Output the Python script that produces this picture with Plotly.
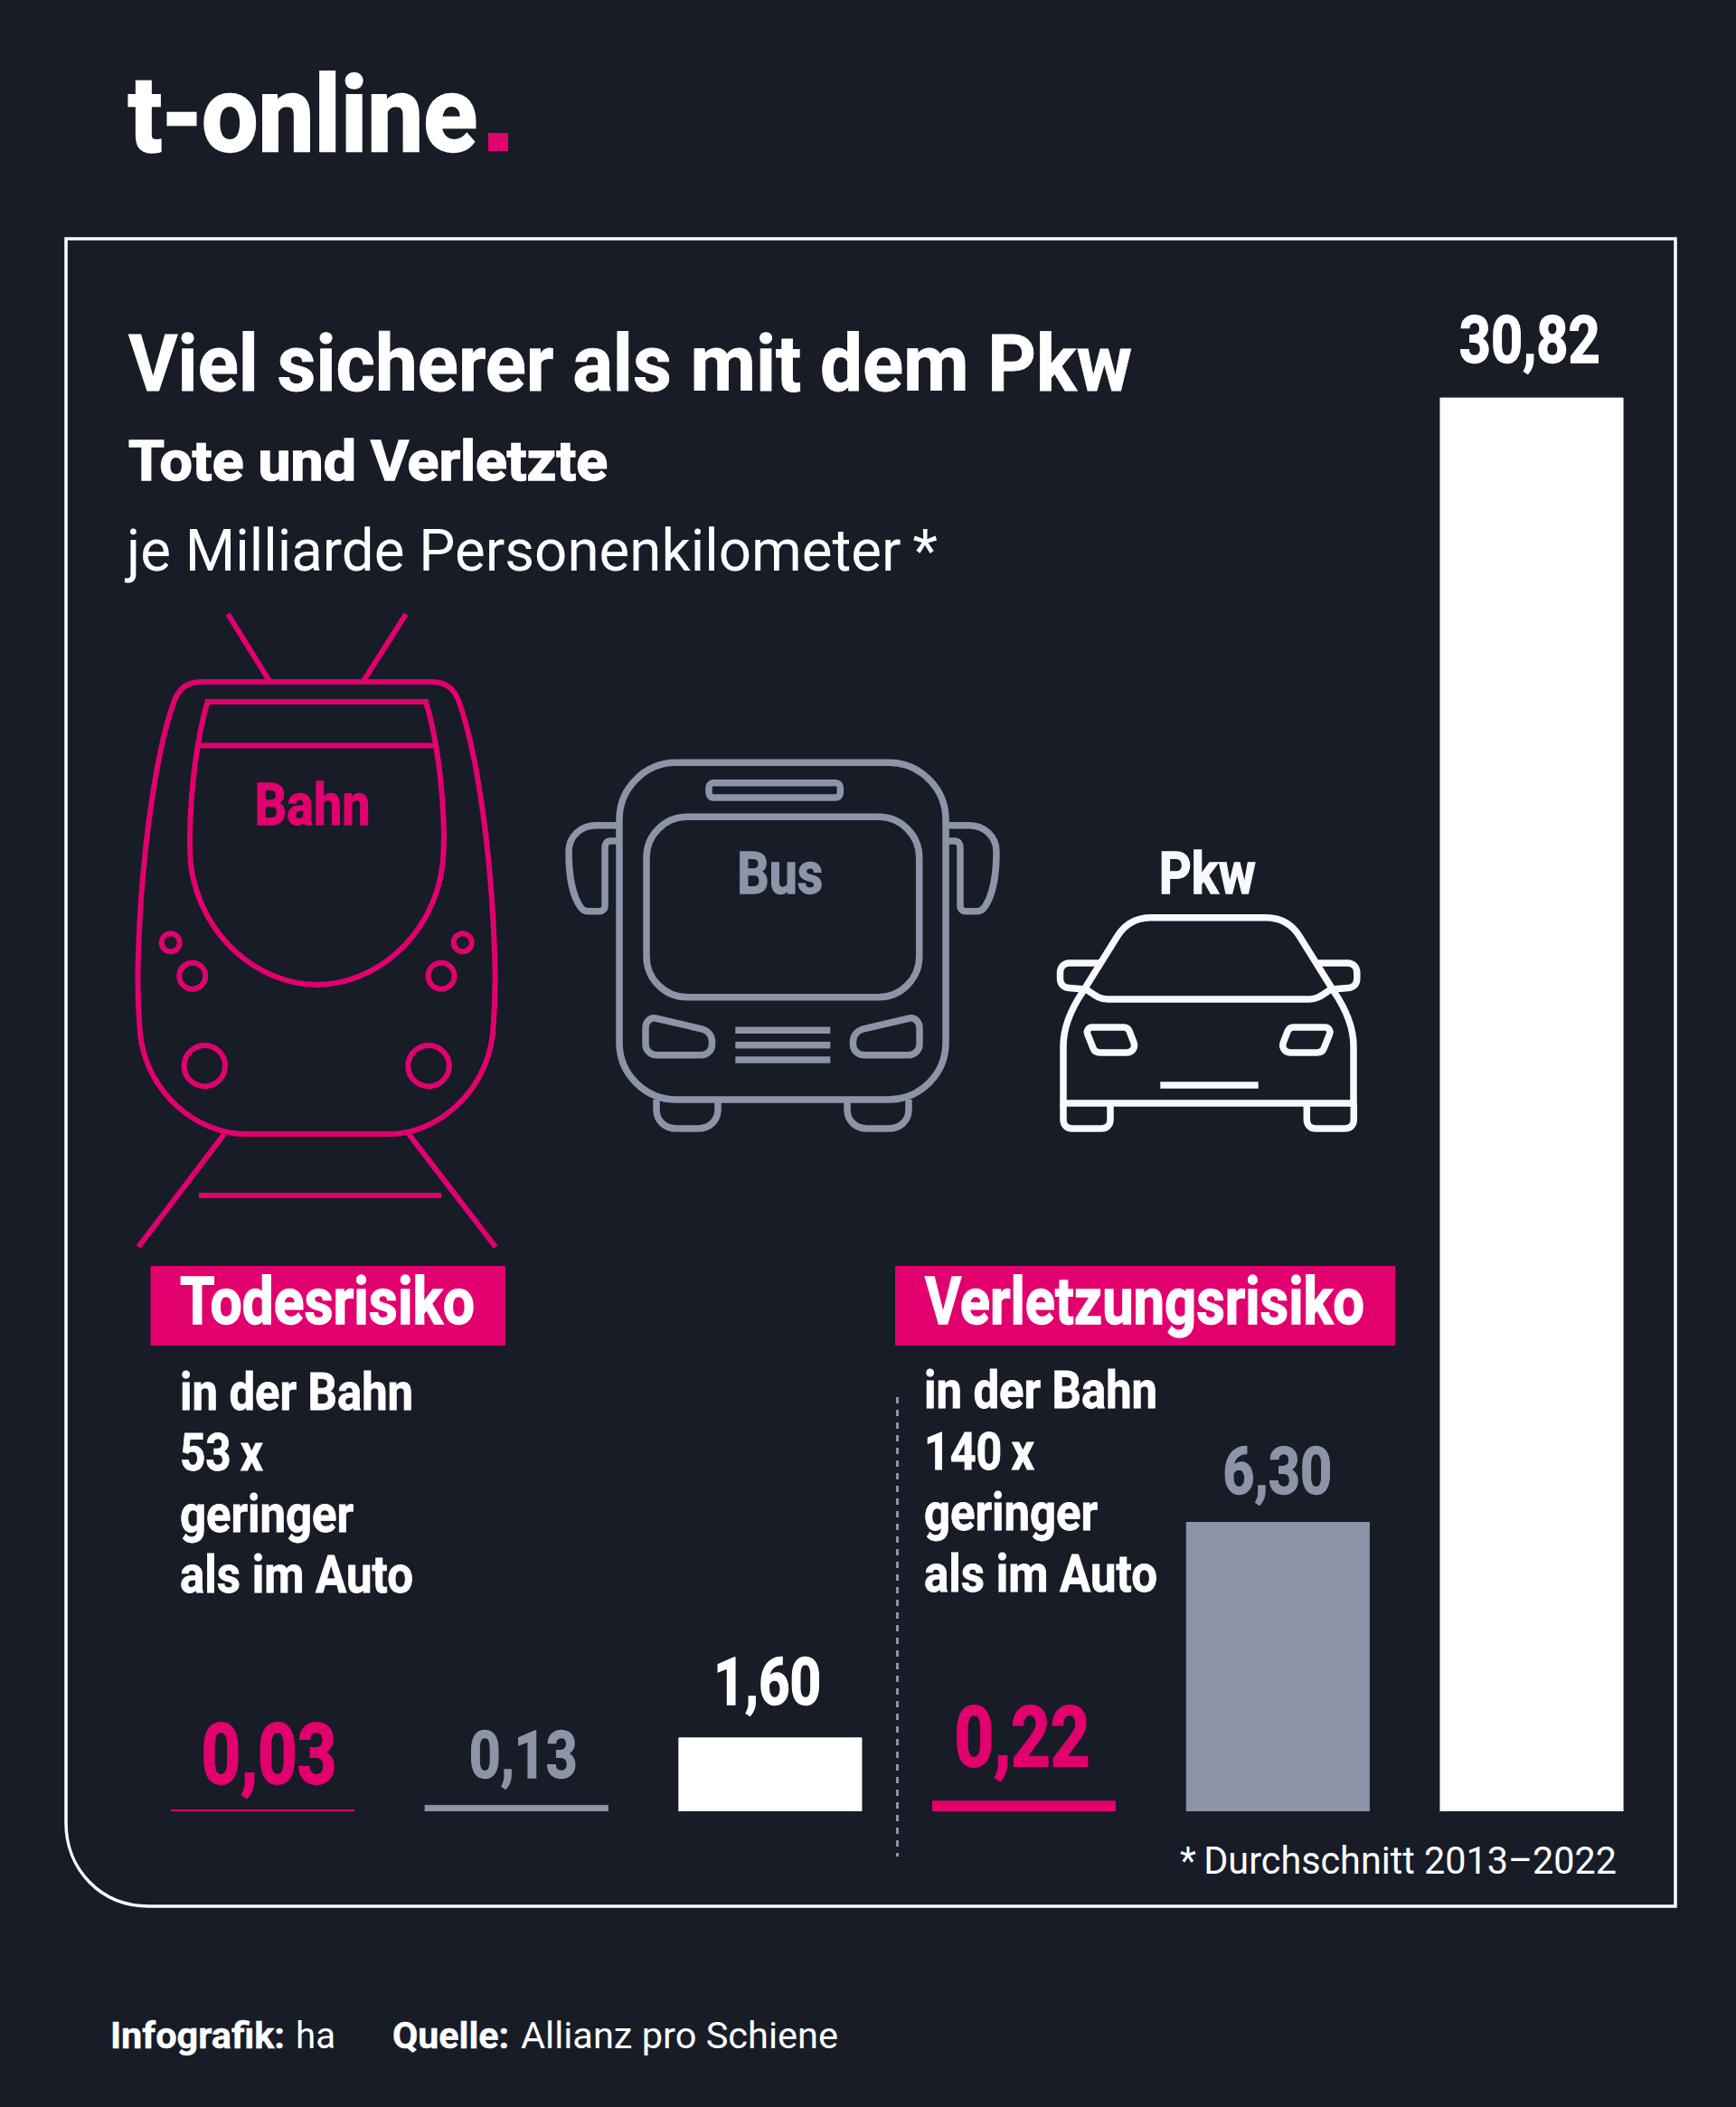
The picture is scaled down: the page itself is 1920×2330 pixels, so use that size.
import json
import re
import plotly.graph_objects as go

# bar data
categories = ['Tod Bahn', 'Tod Bus', 'Tod Pkw', 'Verletzt Bahn', 'Verletzt Bus', 'Verletzt Pkw']
values = [0.03, 0.13, 1.60, 0.22, 6.30, 30.82]
value_labels = ['0,03', '0,13', '1,60', '0,22', '6,30', '30,82']
risk_lines_tod = ['in der Bahn', '53\u2009x', 'geringer', 'als im Auto']
risk_lines_verletzt = ['in der Bahn', '140\u2009x', 'geringer', 'als im Auto']

BG = '#171C27'
PINK = '#E2006F'
GREY = '#8E94A8'
WHITE = '#FFFFFF'
bar_colors = [PINK, GREY, WHITE, PINK, GREY, WHITE]
label_sizes = [92, 73, 73, 92, 73, 73]
label_gaps = [29.5, 30.5, 37, 39, 31.5, 39]
label_dx = [7, 8, -2.5, -2.5, 0, -2]

# the original uses a condensed face; no such font here, so each text is squeezed to its measured width
text_widths = {
    't-online': 386, 'Viel sicherer als mit dem Pkw': 1110, 'Tote und Verletzte': 530,
    'je Milliarde Personenkilometer\u2009*': 897, 'Bahn': 128, 'Bus': 95, 'Pkw': 107,
    'Todesrisiko': 326, 'Verletzungsrisiko': 486, 'in der Bahn': 258, '53\u2009x': 92, '140\u2009x': 122,
    'geringer': 192, 'als im Auto': 258, '0,03': 150, '0,13': 120, '1,60': 119, '0,22': 150, '6,30': 121,
    '30,82': 156, '*\u2009Durchschnitt 2013\u20132022': 483, 'Infografik:': 193, 'ha': 44, 'Quelle:': 129,
    'Allianz pro Schiene': 351,
}
# and thickened a little, the squeeze thins the stems
text_strokes = {
    't-online': 2.5, 'Viel sicherer als mit dem Pkw': 0.8, 'Tote und Verletzte': 1.5,
    'Bahn': 1.3, 'Bus': 1.3, 'Pkw': 1.3, 'Todesrisiko': 1.4, 'Verletzungsrisiko': 1.4,
    'in der Bahn': 0.8, '53\u2009x': 0.8, '140\u2009x': 0.8, 'geringer': 0.8, 'als im Auto': 0.8,
    '0,03': 2, '0,13': 1.4, '1,60': 1.4, '0,22': 2, '6,30': 1.4, '30,82': 1.4,
    'Infografik:': 0.4, 'Quelle:': 0.4,
}

fig = go.Figure()

# axis geometry: 280.7 px per bar, 50.71 px per unit
base_px = 2003
px_per_unit = 50.71
y_max = 34
fig.add_trace(go.Bar(x=categories, y=values, marker_color=bar_colors, marker_line_width=1, marker_line_color=bar_colors,
                     width=0.72, hoverinfo='skip', showlegend=False))
# empty trace so the pixel overlay axes exist
fig.add_trace(go.Scatter(x=[0], y=[0], xaxis='x2', yaxis='y2', mode='none', hoverinfo='skip', showlegend=False))

def mirror(path, cx):
    return re.sub(r'(-?[\d.]+),(-?[\d.]+)', lambda m: '%.1f,%s' % (2 * cx - float(m.group(1)), m.group(2)), path)

def rrect(x0, y0, x1, y1, r):
    k = r * 0.45
    return ('M%s,%s L%s,%s C%s,%s %s,%s %s,%s L%s,%s C%s,%s %s,%s %s,%s L%s,%s C%s,%s %s,%s %s,%s L%s,%s C%s,%s %s,%s %s,%s Z' % (
        x0 + r, y0, x1 - r, y0, x1 - k, y0, x1, y0 + k, x1, y0 + r,
        x1, y1 - r, x1, y1 - k, x1 - k, y1, x1 - r, y1,
        x0 + r, y1, x0 + k, y1, x0, y1 - k, x0, y1 - r,
        x0, y0 + r, x0, y0 + k, x0 + k, y0, x0 + r, y0))

def circle(cx, cy, r):
    return rrect(cx - r, cy - r, cx + r, cy + r, r)

def stroke(path, color, width=4.5):
    fig.add_shape(type='path', path=path, xref='x2', yref='y2', line=dict(color=color, width=width), fillcolor='rgba(0,0,0,0)')

def box(x0, y0, x1, y1, color):
    fig.add_shape(type='rect', x0=x0, y0=y0, x1=x1, y1=y1, xref='x2', yref='y2', fillcolor=color, line_width=0)

def label(text, x, baseline, size, color=WHITE, weight=700, anchor='left'):
    fig.add_annotation(text=text, x=x, y=baseline + 0.244 * size, xref='x2', yref='y2', xanchor=anchor, yanchor='bottom',
                       showarrow=False, borderpad=0, borderwidth=0,
                       font=dict(family='Roboto', size=size, color=color, weight=weight))

# frame with the rounded corner bottom left
stroke('M73,264 L1853,264 L1853,2108 L165,2108 C110,2108 73,2066 73,2016 Z', WHITE, 3.5)

# train
train = [
    'M223,754 L477,754 C495,754 503,763 508,777 C530,840 545,960 547.5,1071 C548,1100 547,1120 545,1143 '
    'C538,1210 480,1254 433,1254 L270,1254 C220,1254 162,1210 155,1143 C153,1120 152,1100 152.5,1071 '
    'C155,960 170,840 192,777 C197,763 205,754 223,754 Z',
    'M229.5,776 L471,776 C483,815 490,870 491,923 C491,935 490.5,946 489.5,956 C480,1035 415,1089 350.5,1089 '
    'C286,1089 221,1035 211,956 C210,946 210,935 210,923 C211,870 218,815 229.5,776 Z',
    'M221,824.6 L480,824.6',
    'M252,679 L298,753', 'M449,679 L402,753',
    'M248,1254 L153,1379', 'M452,1254 L548,1379',
    'M220,1322 L488,1322',
    circle(188.7, 1042.3, 10), circle(511.7, 1042.3, 10),
    circle(212.7, 1079.2, 14.5), circle(488, 1079.2, 14.5),
    circle(226.3, 1178.7, 22.7), circle(474, 1178.7, 22.7),
]
for p in train:
    stroke(p, PINK, 6)

# bus
bus_cx = 865.5
bus_mirror = 'M682,912.7 L660,912.7 C642,912.7 629,925 629,942 C629,970 634,992 642,1003 C644,1006 646,1007.7 650,1007.7 L663,1007.7 C667,1007.7 669,1005 669,1002 L669,938 C669,933 671,930 675,930 L682,930'
bus_light = 'M725,1126 L777,1138 C783,1140 787.5,1145 787.5,1152 L787.5,1155 C787.5,1162 782,1166.7 775,1166.7 L726,1166.7 C719,1166.7 714,1161 714,1155 L714,1137 C714,1130 719,1125 725,1126 Z'
bus_wheel = 'M726,1216 L726,1227 C726,1240 736,1248 748,1248 L772,1248 C784,1248 794,1240 794,1227 L794,1216'
bus = [
    rrect(685, 843.3, 1046, 1216, 63),
    rrect(784, 865.7, 929.3, 882, 5),
    rrect(715, 903.3, 1016.7, 1102.7, 45),
    bus_mirror, mirror(bus_mirror, bus_cx),
    bus_light, mirror(bus_light, bus_cx),
    bus_wheel, mirror(bus_wheel, bus_cx),
    'M813.3,1139.3 L918.3,1139.3', 'M813.3,1155.7 L918.3,1155.7', 'M813.3,1172 L918.3,1172',
]
for p in bus:
    stroke(p, GREY, 7.5)

# car
car_cx = 1336.65
car_mirror = 'M1217,1065 L1183,1065 C1176,1065 1172.5,1070 1172.5,1076 L1172.5,1082 C1172.5,1088 1176,1092 1182,1092.5 L1200,1094'
car_light = 'M1208,1136 L1243,1136 C1246,1136 1248,1138 1249,1140 L1254,1153 C1256,1159 1252,1164 1246,1164 L1217,1164 C1213,1164 1210,1162 1209,1159 L1203,1144 C1201,1140 1204,1136 1208,1136 Z'
car_wheel = 'M1176,1220 L1176,1238 C1176,1244 1180,1248 1186,1248 L1218,1248 C1224,1248 1228,1244 1228,1238 L1228,1220'
car = [
    'M1273,1014.7 L1400,1014.7 C1418,1014.7 1430,1024 1437,1035 L1475,1096 C1488,1115 1497,1135 1497,1157 L1497,1220 '
    'L1176,1220 L1176,1157 C1176,1135 1185,1115 1198,1096 L1236,1035 C1243,1024 1255,1014.7 1273,1014.7 Z',
    'M1200,1093.3 C1208,1098 1214,1105 1225,1105 L1448,1105 C1459,1105 1465,1098 1473.3,1093.3',
    car_mirror, mirror(car_mirror, car_cx),
    car_light, mirror(car_light, car_cx),
    car_wheel, mirror(car_wheel, car_cx),
    'M1283.3,1200 L1391.7,1200',
]
for p in car:
    stroke(p, '#F8F9FC', 7.5)

# divider
fig.add_shape(type='line', x0=992.5, x1=992.5, y0=1545, y1=2053, xref='x2', yref='y2',
              line=dict(color=GREY, width=3, dash='7px,7px'))

# logo, headings
label('t-online', 142, 167, 116)
box(540, 147, 562, 167, PINK)
label('Viel sicherer als mit dem Pkw', 142, 432, 87)
label('Tote und Verletzte', 142, 531, 62)
label('je Milliarde Personenkilometer\u2009*', 140, 631, 64, weight=400)

# icon names
label('Bahn', 345, 912, 64, PINK, anchor='center')
label('Bus', 863, 988, 64, GREY, anchor='center')
label('Pkw', 1335, 988, 64, '#F8F9FC', anchor='center')

# risk boxes
box(166.5, 1400, 559, 1488, PINK)
box(990, 1400, 1543, 1488, PINK)
label('Todesrisiko', 199, 1464, 73)
label('Verletzungsrisiko', 1023, 1464, 73)
for line, b in zip(risk_lines_tod, [1559, 1626, 1694, 1761]):
    label(line, 199, b, 58)
for line, b in zip(risk_lines_verletzt, [1557, 1625, 1692, 1760]):
    label(line, 1022, b, 58)

# value labels over the bars
for cat, val, txt, col, size, gap, dx in zip(categories, values, value_labels, bar_colors, label_sizes, label_gaps, label_dx):
    fig.add_annotation(text=txt, x=cat, y=val, xref='x', yref='y', xanchor='center', yanchor='bottom', showarrow=False,
                       borderpad=0, borderwidth=0, xshift=dx, yshift=gap - 0.244 * size,
                       font=dict(family='Roboto', size=size, color=col, weight=700))

# footnote and source
label('*\u2009Durchschnitt 2013\u20132022', 1305, 2072, 42, weight=400)
label('Infografik:', 122, 2265.5, 40)
label('ha', 327, 2265.5, 40, weight=400)
label('Quelle:', 434, 2265.5, 40)
label('Allianz pro Schiene', 576, 2265.5, 40, weight=400)

fig.update_layout(
    width=1920, height=2330, margin=dict(l=0, r=0, t=0, b=0),
    paper_bgcolor=BG, plot_bgcolor='rgba(0,0,0,0)', showlegend=False,
    xaxis=dict(domain=[150.15 / 1920, 1834.35 / 1920], range=[-0.5, 5.5], type='category', visible=False,
               categoryorder='array', categoryarray=categories, fixedrange=True),
    yaxis=dict(domain=[1 - base_px / 2330, 1 - (base_px - y_max * px_per_unit) / 2330], range=[0, y_max], visible=False, fixedrange=True),
    xaxis2=dict(domain=[0, 1], range=[0, 1920], visible=False, anchor='y2', fixedrange=True),
    yaxis2=dict(domain=[0, 1], range=[2330, 0], visible=False, anchor='x2', fixedrange=True),
)

squeeze = """
document.body.style.margin = '0';
var gd = document.getElementById('{plot_id}');
var widths = %s;
var strokes = %s;
function squeezeTexts() {
    gd.querySelectorAll('.annotation-text').forEach(function (el) {
        var txt = el.getAttribute('data-unformatted');
        var w = widths[txt];
        if (!w || el.getAttribute('textLength')) return;
        var idx = el.closest('.annotation').getAttribute('data-index');
        if (gd._fullLayout.annotations[idx].xanchor === 'left') {
            el.setAttribute('x', el.getBBox().x);
            el.setAttribute('text-anchor', 'start');
        }
        el.setAttribute('lengthAdjust', 'spacingAndGlyphs');
        el.setAttribute('textLength', w);
        if (strokes[txt]) {
            el.style.stroke = el.style.fill;
            el.style.strokeWidth = strokes[txt] + 'px';
        }
    });
}
squeezeTexts();
setTimeout(squeezeTexts, 100);
gd.on('plotly_afterplot', squeezeTexts);
""" % (json.dumps(text_widths), json.dumps(text_strokes))
fig.write_html('out.html', config={'displayModeBar': False}, post_script=squeeze)
